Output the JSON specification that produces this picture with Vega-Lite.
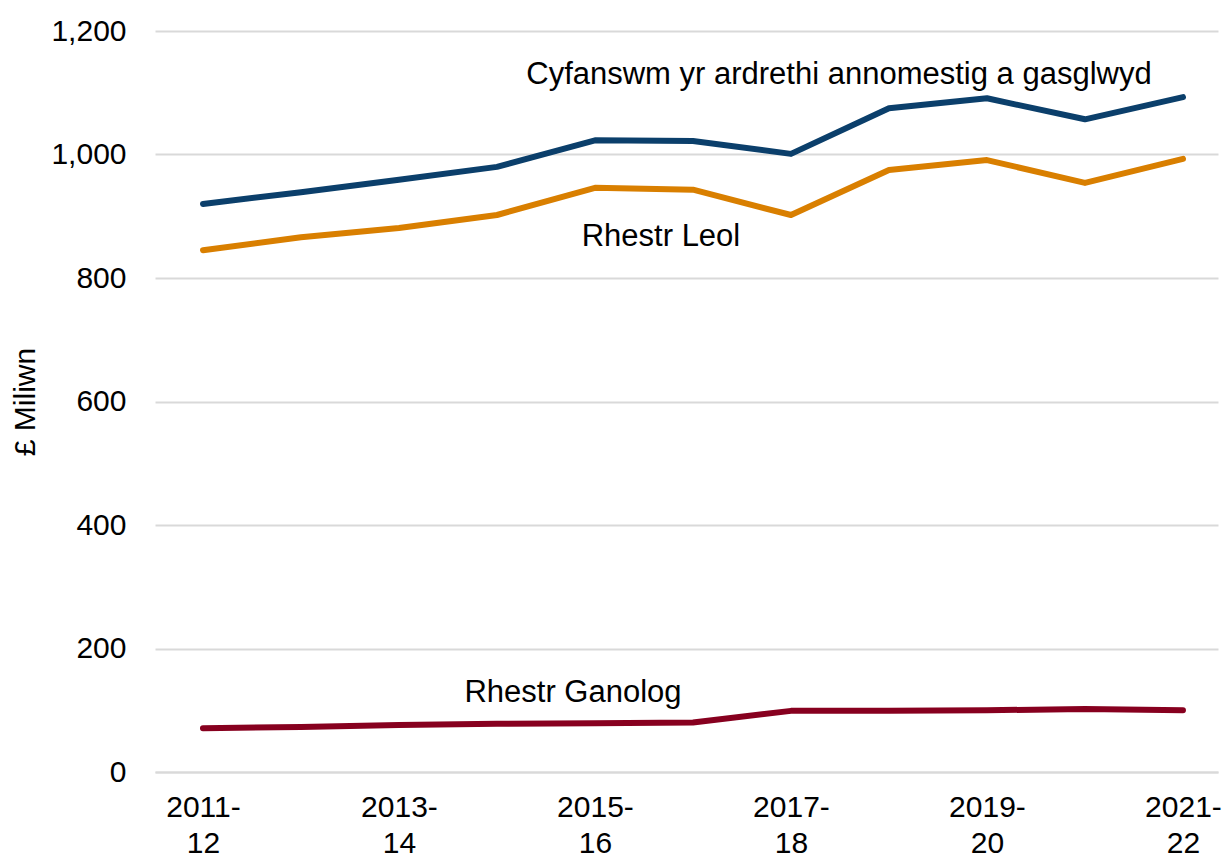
{
  "$schema": "https://vega.github.io/schema/vega-lite/v6.json",
  "width": 1063,
  "height": 741,
  "autosize": "none",
  "padding": {"left": 155, "top": 31, "right": 5, "bottom": 85},
  "background": "white",
  "config": {
    "font": "Liberation Sans",
    "view": {"stroke": null},
    "axis": {"labelFont": "Liberation Sans", "titleFont": "Liberation Sans", "labelColor": "#000000", "titleColor": "#000000"}
  },
  "datasets": {
    "series": [
      {"year": "2011-12", "series": "Cyfanswm", "value": 920},
      {"year": "2012-13", "series": "Cyfanswm", "value": 939},
      {"year": "2013-14", "series": "Cyfanswm", "value": 959},
      {"year": "2014-15", "series": "Cyfanswm", "value": 980},
      {"year": "2015-16", "series": "Cyfanswm", "value": 1023},
      {"year": "2016-17", "series": "Cyfanswm", "value": 1022},
      {"year": "2017-18", "series": "Cyfanswm", "value": 1001},
      {"year": "2018-19", "series": "Cyfanswm", "value": 1075},
      {"year": "2019-20", "series": "Cyfanswm", "value": 1091},
      {"year": "2020-21", "series": "Cyfanswm", "value": 1057},
      {"year": "2021-22", "series": "Cyfanswm", "value": 1093},
      {"year": "2011-12", "series": "Rhestr Leol", "value": 845},
      {"year": "2012-13", "series": "Rhestr Leol", "value": 866},
      {"year": "2013-14", "series": "Rhestr Leol", "value": 881},
      {"year": "2014-15", "series": "Rhestr Leol", "value": 902},
      {"year": "2015-16", "series": "Rhestr Leol", "value": 946},
      {"year": "2016-17", "series": "Rhestr Leol", "value": 943},
      {"year": "2017-18", "series": "Rhestr Leol", "value": 902},
      {"year": "2018-19", "series": "Rhestr Leol", "value": 975},
      {"year": "2019-20", "series": "Rhestr Leol", "value": 991},
      {"year": "2020-21", "series": "Rhestr Leol", "value": 954},
      {"year": "2021-22", "series": "Rhestr Leol", "value": 993},
      {"year": "2011-12", "series": "Rhestr Ganolog", "value": 71},
      {"year": "2012-13", "series": "Rhestr Ganolog", "value": 73},
      {"year": "2013-14", "series": "Rhestr Ganolog", "value": 76},
      {"year": "2014-15", "series": "Rhestr Ganolog", "value": 78},
      {"year": "2015-16", "series": "Rhestr Ganolog", "value": 79},
      {"year": "2016-17", "series": "Rhestr Ganolog", "value": 80},
      {"year": "2017-18", "series": "Rhestr Ganolog", "value": 99},
      {"year": "2018-19", "series": "Rhestr Ganolog", "value": 99},
      {"year": "2019-20", "series": "Rhestr Ganolog", "value": 100},
      {"year": "2020-21", "series": "Rhestr Ganolog", "value": 102},
      {"year": "2021-22", "series": "Rhestr Ganolog", "value": 100}
    ],
    "labels": [
      {"year": "2017-18", "value": 1129, "text": "Cyfanswm yr ardrethi annomestig a gasglwyd", "offset": 48},
      {"year": "2016-17", "value": 866, "text": "Rhestr Leol", "offset": -32},
      {"year": "2015-16", "value": 128, "text": "Rhestr Ganolog", "offset": -22}
    ]
  },
  "layer": [
    {
      "data": {"name": "series"},
      "mark": {"type": "line", "strokeWidth": 6, "strokeCap": "round", "strokeJoin": "round"},
      "encoding": {
        "x": {
          "field": "year", "type": "ordinal",
          "scale": {"type": "point", "padding": 0.4235, "align": 0.578},
          "axis": {
            "title": null,
            "values": ["2011-12", "2013-14", "2015-16", "2017-18", "2019-20", "2021-22"],
            "labelExpr": "[slice(datum.value, 0, 5), slice(datum.value, 5)]",
            "labelAngle": 0,
            "labelFontSize": 30,
            "labelLineHeight": 36,
            "labelPadding": 20,
            "ticks": false,
            "domainColor": "#D9D9D9",
            "domainWidth": 2,
            "grid": false
          }
        },
        "y": {
          "field": "value", "type": "quantitative",
          "scale": {"domain": [0, 1200], "nice": false},
          "axis": {
            "title": "£ Miliwn",
            "titleFontSize": 30,
            "titleFontWeight": "normal",
            "titlePadding": 10,
            "values": [0, 200, 400, 600, 800, 1000, 1200],
            "format": ",.0f",
            "labelFontSize": 30,
            "labelPadding": 29,
            "ticks": false,
            "domain": false,
            "grid": true,
            "gridColor": "#D9D9D9",
            "gridWidth": 2
          }
        },
        "color": {
          "field": "series", "type": "nominal",
          "scale": {"domain": ["Cyfanswm", "Rhestr Leol", "Rhestr Ganolog"], "range": ["#0B3F6B", "#D97F00", "#87001F"]},
          "legend": null
        }
      }
    },
    {
      "data": {"name": "labels"},
      "mark": {"type": "text", "fontSize": 31, "font": "Liberation Sans", "align": "center", "baseline": "middle", "color": "#000000"},
      "encoding": {
        "x": {"field": "year", "type": "ordinal"},
        "y": {"field": "value", "type": "quantitative"},
        "xOffset": {"field": "offset", "type": "quantitative", "scale": null},
        "text": {"field": "text"}
      }
    }
  ]
}
